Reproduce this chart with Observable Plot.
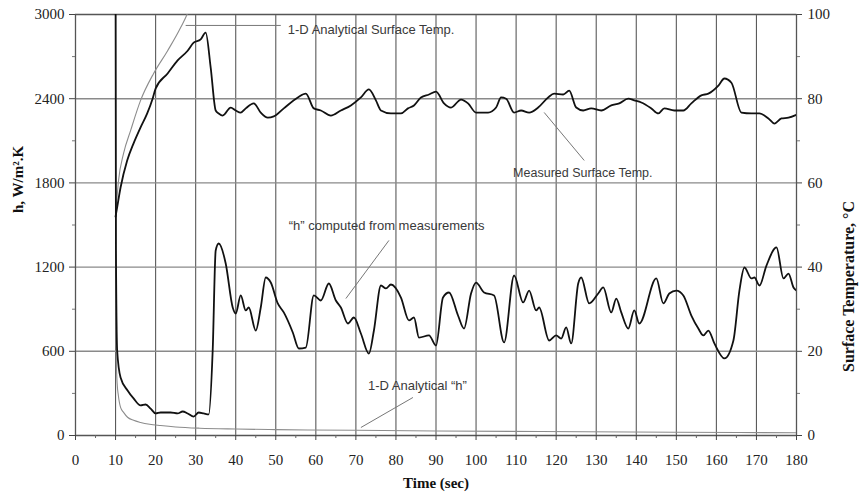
<!DOCTYPE html>
<html>
<head>
<meta charset="utf-8">
<script src="https://cdn.jsdelivr.net/npm/d3@7"></script>
<script src="https://cdn.jsdelivr.net/npm/@observablehq/plot@0.6"></script>
<style>
  html, body { margin: 0; padding: 0; background: #fff; }
  #chart svg { display: block; }
</style>
</head>
<body>
<div id="chart"></div>
<script>
// ---- Data ----
const timeTicks = [0,10,20,30,40,50,60,70,80,90,100,110,120,130,140,150,160,170,180];
const timeMinor = [5,15,25,35,45,55,65,75,85,95,105,115,125,135,145,155,165,175];
const hTicks = [0,600,1200,1800,2400,3000];
const hMinor = [300,900,1500,2100,2700];
const tempTicks = [0,20,40,60,80,100];
const tempMinor = [10,30,50,70,90];
const tempToH = 30; // 100 °C on the right axis sits at 3000 on the left axis

// Measured surface temperature (°C)
const measTempTime = [10,10.4,11.25,12.9,14.5,16.25,17.9,19.25,20,23,25.5,28,29.5,31.25,32.5,33.75,35,35.75,36.75,38.75,40,41.25,42.5,44.5,46.25,48,49.5,52,55.5,57.5,59.5,61.25,63.75,66.25,68.75,71.25,73.25,75,76.25,78.75,81.25,83,84.5,86.25,88.25,90,92,93.75,96.25,98,100,103,105,106.25,107.5,109.5,111.25,113.25,115.5,118,119.5,121.75,123.25,125,126.75,128.75,131.25,133.75,135.75,138,139.5,141.25,143.75,145.5,147,149.5,151.75,153.75,156.25,158,160.5,162,163.75,166.25,168.75,170.75,173,174.5,176.25,178,180];
const measTempVal = [52,54.2,58.9,65.3,69.4,73.2,76.5,80.0,82.4,86.0,89.1,91.4,93.3,94.1,95.7,87.4,77.2,76.5,76.0,77.9,77.2,76.7,77.7,78.9,76.7,75.5,75.8,77.7,80.3,81.2,77.7,77.2,76.0,77.2,78.4,80.3,82.2,79.6,77.2,76.5,76.5,77.7,78.4,80.3,81.0,81.7,78.9,77.9,79.8,78.9,76.7,76.7,77.9,80.3,80.0,76.7,77.2,76.7,77.9,80.3,81.2,81.0,81.9,77.9,77.2,77.7,77.2,78.4,78.9,80.0,79.6,79.1,77.7,76.5,77.7,77.2,77.2,78.9,80.8,81.2,83.1,84.8,83.8,76.7,76.5,76.5,75.3,74.1,75.3,75.5,76.2];

// 1-D analytical surface temperature (°C)
const anaTempTime = [10,10.75,12,13.75,16.25,19.5,23,26.25,28.25,28.6];
const anaTempVal  = [52,60.6,67.0,72.4,79.6,86.0,91.4,96.9,101,102];

// "h" computed from measurements (W/m².K)
const measHTime = [10,10.1,10.4,11.25,13,14.5,16.25,17.5,18.75,20,21.25,23.75,25.5,26.75,28,29.5,30.75,32,33.25,34.25,35,35.75,37.5,39.25,40,41.25,42.5,43.25,45,46.25,47.5,48.75,50.5,52,54.25,55.75,57.5,59.5,61.25,63.25,65,66.25,68,69.5,71.25,73.25,74.5,76.25,77.5,78.75,81.25,83.25,84.5,85.75,88.25,90,91.75,93.25,95.5,97,98.75,100,102,104.5,107,109.5,111.75,113.25,115,115.75,118.25,120,121.25,122.5,123.75,125.5,126.25,128.25,130.5,131.75,133.75,135,136.25,138,139.5,140.75,145,146.75,148.25,150,151.75,153.75,155.5,156.75,158,159.5,162,164.25,165.75,167,168.75,169.5,170.75,172.5,175,176.75,178,179.25,180];
const measHVal = [3300,1318,606,413,321,264,214,221,192,157,164,164,157,171,157,135,164,157,150,606,1318,1368,1226,912,869,998,891,912,748,912,1126,1090,941,877,734,620,627,998,962,1083,962,912,798,841,727,584,748,1069,1048,1076,983,820,841,698,713,641,983,1019,855,762,1012,1090,1019,998,663,1140,948,1033,891,912,677,713,691,770,656,1083,1126,941,1012,1055,877,976,877,762,891,798,1119,941,1012,1033,998,855,762,713,748,656,549,677,1033,1197,1119,1126,1069,1211,1340,1119,1154,1055,1033];

// 1-D analytical "h" (W/m².K)
const anaHTime = [10.006,10.02,10.05,10.1,10.2,10.4,10.7,11.25,12,13,14.5,16.25,18.5,21.25,25,31,40,50,70,90,116,150,180];
const anaHVal  = [3000,1700,1060,750,530,370,285,200,165,130,108,93,80,71,61,52,46,42,37,32,28,23,20];

// Annotation labels and leader lines (data units: time, h)
const noteText = ["1-D Analytical Surface Temp.", "Measured Surface Temp.", "\u201Ch\u201D computed from measurements", "1-D Analytical \u201Ch\u201D"];
const noteTime = [53, 109.25, 53.25, 73];
const noteH    = [2893, 1874, 1496, 356];
const noteSize = [13, 12.5, 13, 13];
const leadT1 = [27.5, 117, 78.25, 84.25];
const leadH1 = [2922, 2302, 1390, 271];
const leadT2 = [51.25, 127, 67.5, 71.25];
const leadH2 = [2922, 1960, 976, 57];

// ---- Tables built from the arrays ----
const measTemp = measTempTime.map((t, i) => ({t, v: measTempVal[i]}));
const anaTemp  = anaTempTime.map((t, i) => ({t, v: anaTempVal[i]}));
const measH    = measHTime.map((t, i) => ({t, v: measHVal[i]}));
const anaH     = anaHTime.map((t, i) => ({t, v: anaHVal[i]}));
const notes    = noteText.map((s, i) => ({s, t: noteTime[i], h: noteH[i], size: noteSize[i]}));
const leads    = leadT1.map((t, i) => ({t1: t, h1: leadH1[i], t2: leadT2[i], h2: leadH2[i]}));

const serif = "'Liberation Serif', 'DejaVu Serif', serif";
const sans = "'Liberation Sans', Arial, sans-serif";

const chart = Plot.plot({
  width: 861,
  height: 496,
  marginLeft: 75,
  marginRight: 65,
  marginTop: 14,
  marginBottom: 61,
  style: {fontFamily: serif, fontSize: "15px", color: "#222", background: "#fff"},
  x: {domain: [0, 180]},
  y: {domain: [0, 3000]},
  marks: [
    // grid
    Plot.ruleX(timeTicks, {stroke: "#5a5a5a", strokeWidth: 1.1}),
    Plot.ruleY(hTicks, {stroke: "#8a8a8a", strokeWidth: 1.4}),
    Plot.frame({stroke: "#555", strokeWidth: 1.2}),
    // axes
    Plot.axisX({ticks: timeTicks, tickSize: 5, tickPadding: 14, fontSize: 15, label: null, stroke: "#444",
      tickFormat: d => String(d)}),
    Plot.axisX({ticks: timeMinor, tickSize: 3, tickFormat: () => "", label: null, stroke: "#666"}),
    Plot.axisY({ticks: hTicks, tickSize: 6, tickPadding: 5, fontSize: 15, label: null, stroke: "#444",
      tickFormat: d => String(d)}),
    Plot.axisY({ticks: hMinor, tickSize: 3, tickFormat: () => "", label: null, stroke: "#777"}),
    Plot.axisY({anchor: "right", ticks: tempTicks.map(d => d * tempToH), tickFormat: d => String(d / tempToH),
      tickSize: 5, tickPadding: 6, fontSize: 15, label: null, stroke: "#444"}),
    Plot.axisY({anchor: "right", ticks: tempMinor.map(d => d * tempToH), tickSize: 3,
      tickFormat: () => "", label: null, stroke: "#777"}),
    // curves
    Plot.line(anaH, {x: "t", y: "v", stroke: "#8c8c8c", strokeWidth: 1.1, curve: "monotone-x", clip: true}),
    Plot.line(anaTemp, {x: "t", y: d => d.v * tempToH, stroke: "#8c8c8c", strokeWidth: 1.1, curve: "monotone-x", clip: true}),
    Plot.line(measH, {x: "t", y: "v", stroke: "#111", strokeWidth: 1.8, curve: "monotone-x", clip: true}),
    Plot.line(measTemp, {x: "t", y: d => d.v * tempToH, stroke: "#111", strokeWidth: 1.8, curve: "monotone-x", clip: true}),
    // annotations
    Plot.link(leads, {x1: "t1", y1: "h1", x2: "t2", y2: "h2", stroke: "#777", strokeWidth: 1}),
    Plot.text(notes, {x: "t", y: "h", text: "s", textAnchor: "start", fontFamily: sans,
      fontSize: "size", fill: "#3a3a3a"}),
    // axis titles
    Plot.text(["Time (sec)"], {frameAnchor: "bottom", dy: 52, fontWeight: "bold", fontSize: 15,
      fontFamily: serif, fill: "#111"}),
    Plot.text(["h, W/m\u00B2.K"], {frameAnchor: "left", dx: -57, dy: -12, rotate: -90,
      fontWeight: "bold", fontSize: 15, fontFamily: serif, fill: "#111"}),
    Plot.text(["Surface Temperature, \u00B0C"], {frameAnchor: "right", dx: 52, dy: -24, rotate: -90,
      fontWeight: "bold", fontSize: 16, fontFamily: serif, fill: "#111", ariaLabel: "rlabel"})
  ]
});

document.getElementById("chart").appendChild(chart);
d3.select(chart).selectAll('g[aria-label="rlabel"] text')
  .attr("textLength", 212).attr("lengthAdjust", "spacing");
</script>
</body>
</html>
